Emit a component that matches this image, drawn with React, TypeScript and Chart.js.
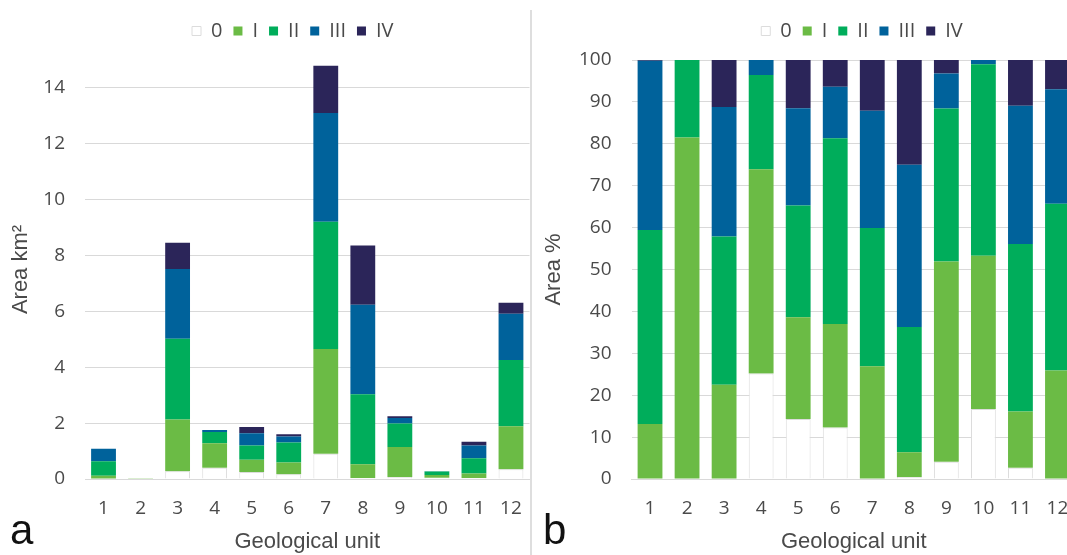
import React, { useEffect, useRef } from "react";
import { Chart, registerables } from "chart.js";

Chart.register(...registerables);

// ---- data ----
const UNITS = ["1", "2", "3", "4", "5", "6", "7", "8", "9", "10", "11", "12"];
const CLASSES = ["0", "I", "II", "III", "IV"];
const CLASS_COLORS = ["#ffffff", "#6bbb45", "#00ad5b", "#00629b", "#2b2559"];

// Panel a: area in km² per class
const AREA_0 = [0, 0, 0.28, 0.4, 0.25, 0.17, 0.9, 0.04, 0.07, 0.045, 0.04, 0.35];
const AREA_I = [0.12, 0.025, 1.85, 0.88, 0.44, 0.42, 3.75, 0.49, 1.08, 0.1, 0.16, 1.54];
const AREA_II = [0.515, 0.006, 2.89, 0.4, 0.51, 0.72, 4.56, 2.5, 0.84, 0.125, 0.54, 2.37];
const AREA_III = [0.445, 0, 2.5, 0.07, 0.44, 0.21, 3.89, 3.21, 0.19, 0.003, 0.46, 1.66];
const AREA_IV = [0.005, 0, 0.94, 0, 0.22, 0.08, 1.69, 2.12, 0.07, 0, 0.13, 0.39];

// Panel b: area share in % per class
const PCT_0 = [0, 0, 0, 25.2, 14.3, 12.3, 0, 0.5, 4.1, 16.7, 2.7, 0];
const PCT_I = [13.1, 81.5, 22.5, 48.7, 24.3, 24.7, 26.9, 5.9, 47.8, 36.6, 13.4, 25.9];
const PCT_II = [46.3, 18.5, 35.4, 22.5, 26.7, 44.3, 33.0, 29.9, 36.5, 45.7, 40.0, 39.8];
const PCT_III = [40.4, 0, 30.9, 3.6, 23.2, 12.3, 28.0, 38.7, 8.4, 1.0, 33.0, 27.3];
const PCT_IV = [0.2, 0, 11.2, 0, 11.5, 6.4, 12.1, 25.0, 3.2, 0, 10.9, 7.0];

const AREA_SERIES = [AREA_0, AREA_I, AREA_II, AREA_III, AREA_IV];
const PCT_SERIES = [PCT_0, PCT_I, PCT_II, PCT_III, PCT_IV];

const AREA_MAX = 15;
const AREA_STEP = 2;
const PCT_MAX = 100;
const PCT_STEP = 10;

// ---- styling ----
const GRID = "#d9d9d9";
const TEXT = "#4a4a4a";
const TICK_FONT = { family: "'Open Sans', sans-serif", size: 19 };
const TITLE_FONT = { family: "'Liberation Sans', Arial, sans-serif", size: 22 };

const legendShift = {
  id: "legendShift",
  afterLayout(chart: any, _args: any, opts: any) {
    const lg = chart.legend;
    if (lg && opts && opts.dx) {
      lg.left += opts.dx;
      lg.right += opts.dx;
    }
  },
};

function buildConfig(p: {
  series: number[][];
  max: number;
  step: number;
  yTitle: string;
  yAxisWidth: number;
  yTitlePad: number;
  legendDx: number;
  padRight: number;
}) {
  return {
    type: "bar" as const,
    data: {
      labels: UNITS,
      datasets: CLASSES.map((name, i) => ({
        label: name,
        data: p.series[i],
        backgroundColor: CLASS_COLORS[i],
        borderColor: i === 0 ? "#dcdcdc" : CLASS_COLORS[i],
        borderWidth: i === 0 ? 1 : 0,
        categoryPercentage: 1,
        barPercentage: 0.67,
      })),
    },
    options: {
      responsive: false,
      animation: false as const,
      events: [],
      layout: { padding: { top: 10, left: 0, right: p.padRight, bottom: 0 } },
      plugins: {
        legend: {
          position: "top" as const,
          labels: {
            boxWidth: 9,
            boxHeight: 9,
            padding: 11,
            color: TEXT,
            font: { family: "'Open Sans', sans-serif", size: 20 },
          },
        },
        subtitle: {
          display: true,
          text: "",
          position: "top" as const,
          weight: 500,
          font: { size: 1 },
          padding: { top: 0, bottom: 7.8 },
        },
        tooltip: { enabled: false },
        legendShift: { dx: p.legendDx },
      },
      scales: {
        x: {
          stacked: true,
          grid: {
            display: true,
            drawOnChartArea: false,
            drawTicks: true,
            tickLength: 18,
            tickColor: "rgba(0,0,0,0)",
            color: "rgba(0,0,0,0)",
          },
          border: { display: true, color: GRID, width: 1 },
          ticks: { color: TEXT, font: TICK_FONT, padding: 0, maxRotation: 0 },
          title: {
            display: true,
            text: "Geological unit",
            color: TEXT,
            font: TITLE_FONT,
            padding: { top: 0, bottom: 0 },
          },
          afterFit: (scale: any) => {
            scale.height = 76;
          },
        },
        y: {
          stacked: true,
          min: 0,
          max: p.max,
          grid: { color: GRID, lineWidth: 1, drawTicks: false },
          border: { display: false },
          ticks: {
            stepSize: p.step,
            color: TEXT,
            font: TICK_FONT,
            padding: 20,
          },
          afterBuildTicks: (scale: any) => {
            scale.ticks = scale.ticks.filter(
              (t: any) => Math.abs(t.value / p.step - Math.round(t.value / p.step)) < 1e-6
            );
          },
          title: {
            display: true,
            text: p.yTitle,
            color: TEXT,
            font: TITLE_FONT,
            padding: { top: p.yTitlePad, bottom: 0 },
          },
          afterFit: (scale: any) => {
            scale.width = p.yAxisWidth;
          },
        },
      },
    },
    plugins: [legendShift],
  };
}

function Panel(props: { left: number; width: number; config: any }) {
  const ref = useRef<HTMLCanvasElement | null>(null);
  useEffect(() => {
    if (!ref.current) return;
    const chart = new Chart(ref.current, props.config);
    return () => chart.destroy();
  }, []);
  return (
    <canvas
      ref={ref}
      width={props.width}
      height={555}
      style={{ position: "absolute", left: props.left, top: 0, width: props.width, height: 555 }}
    />
  );
}

const letterStyle: React.CSSProperties = {
  position: "absolute",
  top: 509,
  fontFamily: "'Liberation Sans', Arial, sans-serif",
  fontSize: 42,
  lineHeight: "42px",
  color: "#111",
};

export default function App() {
  const configA = buildConfig({
    series: AREA_SERIES,
    max: AREA_MAX,
    step: AREA_STEP,
    yTitle: "Area km²",
    yAxisWidth: 85,
    yTitlePad: 8,
    legendDx: 28,
    padRight: 1.5,
  });
  const configB = buildConfig({
    series: PCT_SERIES,
    max: PCT_MAX,
    step: PCT_STEP,
    yTitle: "Area %",
    yAxisWidth: 100.5,
    yTitlePad: 10,
    legendDx: 58.5,
    padRight: 1,
  });
  return (
    <div
      style={{
        position: "fixed",
        left: 0,
        top: 0,
        width: 1067,
        height: 555,
        overflow: "hidden",
        background: "#ffffff",
      }}
    >
      <Panel left={0} width={531} config={configA} />
      <Panel left={531} width={546} config={configB} />
      <div
        style={{
          position: "absolute",
          left: 530,
          top: 10,
          width: 0,
          height: 545,
          borderLeft: "2px solid #dedede",
        }}
      />
      <div style={{ ...letterStyle, left: 10 }}>a</div>
      <div style={{ ...letterStyle, left: 543 }}>b</div>
    </div>
  );
}
